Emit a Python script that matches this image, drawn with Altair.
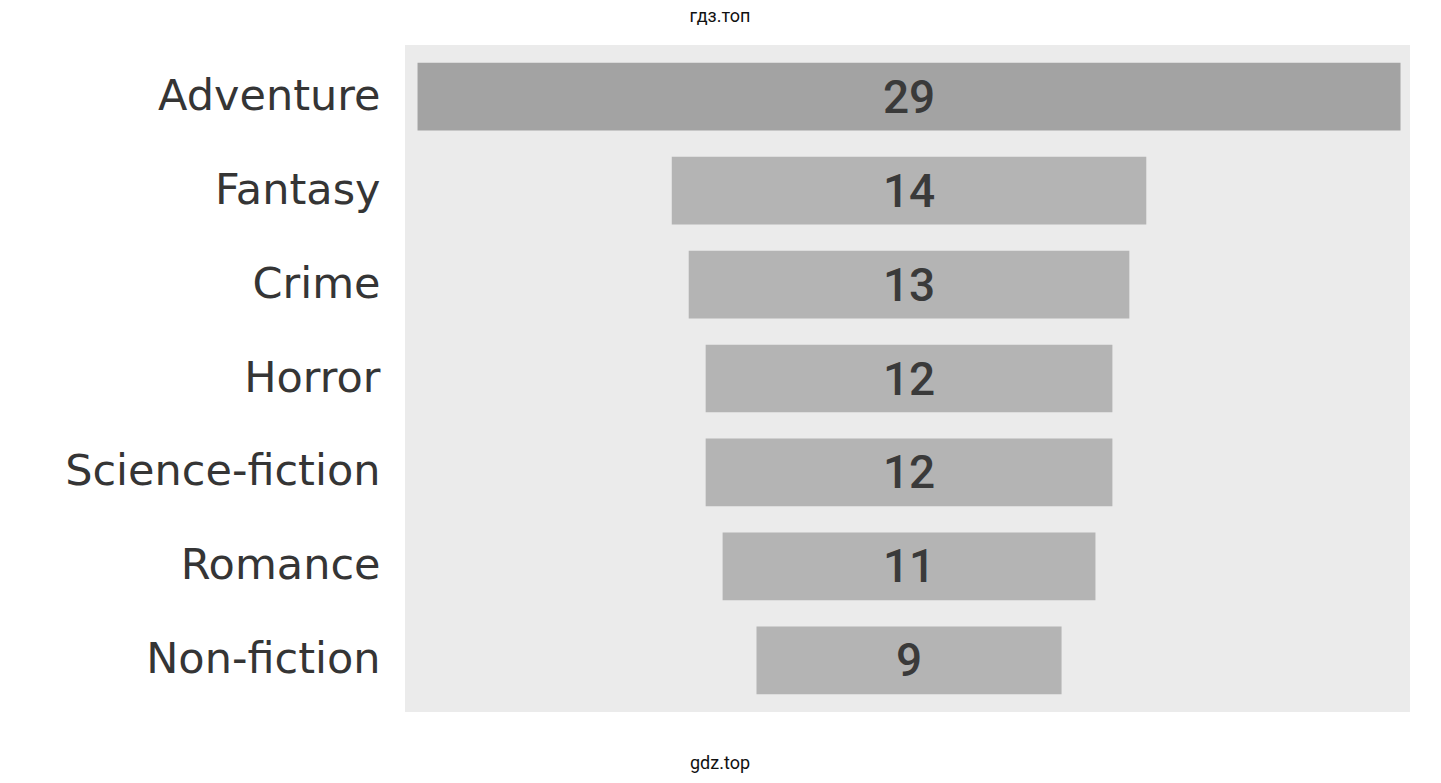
import altair as alt
import pandas as pd

genres = ["Adventure", "Fantasy", "Crime", "Horror", "Science-fiction", "Romance", "Non-fiction"]
counts = [29, 14, 13, 12, 12, 11, 9]

df = pd.DataFrame({"genre": genres, "count": counts})

wm_top = pd.DataFrame({"t": ["гдз.топ"]})
wm_bot = pd.DataFrame({"t": ["gdz.top"]})

ysc = alt.Scale(domain=genres, paddingInner=0.28, paddingOuter=0.19)
xsc = alt.Scale(domain=[-14.87, 14.78], nice=False, zero=False)

base = alt.Chart(df).transform_calculate(
    lo="-datum.count/2", hi="datum.count/2", mid="0"
)

bars = base.mark_bar(cornerRadius=0).encode(
    y=alt.Y("genre:N", scale=ysc, sort=genres,
            axis=alt.Axis(title=None, ticks=False, domain=False, labelPadding=25,
                          labelFontSize=43, labelFont="DejaVu Sans", labelColor="#353535",
                          labelLimit=600)),
    x=alt.X("lo:Q", scale=xsc, axis=None),
    x2="hi:Q",
    color=alt.condition(alt.datum.genre == "Adventure", alt.value("#a3a3a3"), alt.value("#b4b4b4")),
)

labels = base.mark_text(font="Roboto", fontSize=46, fontWeight=500,
                        color="#3a3a3a", baseline="middle", dy=2).encode(
    y=alt.Y("genre:N", scale=ysc, sort=genres),
    x=alt.X("mid:Q", scale=xsc),
    text="count:Q",
)

top = alt.Chart(wm_top).mark_text(font="Roboto", fontSize=18, color="#111111", baseline="alphabetic").encode(
    x=alt.value(315), y=alt.value(-23), text="t:N"
)
bot = alt.Chart(wm_bot).mark_text(font="Roboto", fontSize=18, color="#111111", baseline="alphabetic").encode(
    x=alt.value(315), y=alt.value(724), text="t:N"
)

chart = alt.layer(bars, labels, top, bot).properties(
    width=1005, height=667,
    autosize=alt.AutoSizeParams(type="none"),
    padding={"left": 397, "top": 37, "right": 20, "bottom": 62},
    background="#ffffff",
).configure_view(stroke=None, fill="#ebebeb")

chart.save("out.html", embed_options={"renderer": "svg", "actions": False})
